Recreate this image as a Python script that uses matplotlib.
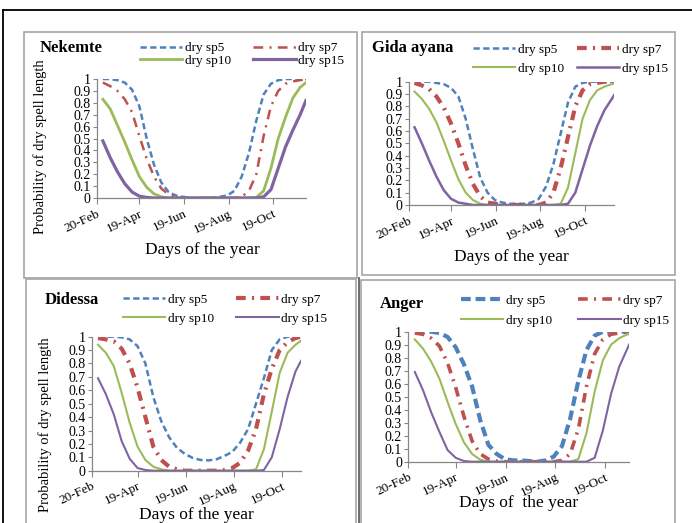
import matplotlib
matplotlib.use("Agg")
import matplotlib.pyplot as plt
from matplotlib.lines import Line2D
from matplotlib.patches import Rectangle

plt.rcParams['font.family'] = ['Liberation Serif', 'DejaVu Serif']
plt.rcParams['lines.scale_dashes'] = False

W, H = 692, 523

# x values are day of the year
tick_days = [51, 109, 170, 231, 292]
tick_labels = ["20-Feb", "19-Apr", "19-Jun", "19-Aug", "19-Oct"]
legend_labels = ["dry sp5", "dry sp7", "dry sp10", "dry sp15"]

# Nekemte
nek_days = [59, 69, 79, 89, 99, 109, 119, 129, 139, 149, 159, 169, 179, 189, 199,
            209, 219, 229, 239, 249, 259, 269, 279, 289, 299, 309, 319, 329, 337]
nek_sp5 = [1.0, 1.0, 0.99, 0.97, 0.91, 0.77, 0.50, 0.28, 0.13, 0.05, 0.02, 0.01, 0.0, 0.0, 0.0,
           0.0, 0.01, 0.02, 0.06, 0.18, 0.38, 0.65, 0.87, 0.96, 0.99, 1.0, 1.0, 1.0, 1.0]
nek_sp7 = [0.97, 0.94, 0.90, 0.83, 0.72, 0.52, 0.33, 0.18, 0.08, 0.03, 0.01, 0.0, 0.0, 0.0, 0.0,
           0.0, 0.0, 0.0, 0.0, 0.01, 0.06, 0.20, 0.52, 0.77, 0.90, 0.96, 0.98, 0.99, 1.0]
nek_sp10 = [0.83, 0.75, 0.61, 0.47, 0.32, 0.18, 0.09, 0.035, 0.01, 0.0, 0.0, 0.0, 0.0, 0.0, 0.0,
            0.0, 0.0, 0.0, 0.0, 0.0, 0.0, 0.005, 0.06, 0.25, 0.50, 0.68, 0.84, 0.93, 0.97]
nek_sp15 = [0.48, 0.34, 0.22, 0.12, 0.05, 0.015, 0.005, 0.0, 0.0, 0.0, 0.0, 0.0, 0.0, 0.0, 0.0,
            0.0, 0.0, 0.0, 0.0, 0.0, 0.0, 0.0, 0.01, 0.07, 0.25, 0.43, 0.57, 0.70, 0.82]

# Gida ayana
gida_days = [59, 69, 79, 89, 99, 109, 119, 129, 139, 149, 159, 169, 179, 189, 199,
             209, 219, 229, 239, 249, 259, 269, 279, 289, 299, 309, 319, 329, 332]
gida_sp5 = [1.0, 1.0, 1.0, 0.99, 0.98, 0.95, 0.88, 0.70, 0.45, 0.22, 0.10, 0.04, 0.02, 0.01, 0.01,
            0.01, 0.02, 0.05, 0.15, 0.33, 0.58, 0.83, 0.96, 0.99, 1.0, 1.0, 1.0, 1.0, 1.0]
gida_sp7 = [0.99, 0.97, 0.94, 0.88, 0.79, 0.66, 0.50, 0.32, 0.17, 0.07, 0.02, 0.01, 0.0, 0.0, 0.0,
            0.0, 0.0, 0.0, 0.02, 0.10, 0.30, 0.55, 0.80, 0.93, 0.98, 0.99, 1.0, 1.0, 1.0]
gida_sp10 = [0.92, 0.86, 0.78, 0.67, 0.52, 0.36, 0.21, 0.10, 0.04, 0.01, 0.0, 0.0, 0.0, 0.0, 0.0,
             0.0, 0.0, 0.0, 0.0, 0.0, 0.01, 0.14, 0.42, 0.70, 0.85, 0.93, 0.96, 0.98, 0.985]
gida_sp15 = [0.63, 0.50, 0.36, 0.23, 0.12, 0.05, 0.02, 0.01, 0.0, 0.0, 0.0, 0.0, 0.0, 0.0, 0.0,
             0.0, 0.0, 0.0, 0.0, 0.0, 0.0, 0.01, 0.10, 0.29, 0.48, 0.64, 0.77, 0.86, 0.89]

# Didessa
did_days = [59, 69, 79, 89, 99, 109, 119, 129, 139, 149, 159, 169, 179, 189, 199,
            209, 219, 229, 239, 249, 259, 269, 279, 289, 299, 309, 316]
did_sp5 = [1.0, 1.0, 1.0, 0.995, 0.98, 0.93, 0.80, 0.55, 0.37, 0.25, 0.17, 0.125, 0.095, 0.08, 0.077,
           0.085, 0.11, 0.14, 0.21, 0.31, 0.50, 0.69, 0.90, 0.98, 1.0, 1.0, 1.0]
did_sp7 = [0.99, 0.98, 0.965, 0.91, 0.80, 0.62, 0.40, 0.18, 0.08, 0.03, 0.01, 0.0, 0.0, 0.0, 0.0,
           0.0, 0.005, 0.02, 0.06, 0.15, 0.31, 0.57, 0.76, 0.90, 0.96, 0.99, 1.0]
did_sp10 = [0.94, 0.88, 0.78, 0.58, 0.36, 0.18, 0.08, 0.03, 0.01, 0.0, 0.0, 0.0, 0.0, 0.0, 0.0,
            0.0, 0.0, 0.0, 0.0, 0.0, 0.01, 0.16, 0.44, 0.73, 0.88, 0.94, 0.97]
did_sp15 = [0.69, 0.57, 0.42, 0.22, 0.09, 0.02, 0.005, 0.0, 0.0, 0.0, 0.0, 0.0, 0.0, 0.0, 0.0,
            0.0, 0.0, 0.0, 0.0, 0.0, 0.0, 0.005, 0.10, 0.31, 0.55, 0.74, 0.82]

# Anger
ang_days = [59, 69, 79, 89, 99, 109, 119, 129, 139, 149, 159, 169, 179, 189, 199,
            209, 219, 229, 239, 249, 259, 269, 279, 289, 299, 309, 319, 321]
ang_sp5 = [1.0, 1.0, 1.0, 0.99, 0.96, 0.88, 0.75, 0.58, 0.32, 0.13, 0.06, 0.02, 0.01, 0.01, 0.005,
           0.0, 0.01, 0.04, 0.12, 0.33, 0.62, 0.86, 0.97, 1.0, 1.0, 1.0, 1.0, 1.0]
ang_sp7 = [0.99, 0.98, 0.95, 0.89, 0.76, 0.57, 0.35, 0.16, 0.06, 0.02, 0.005, 0.0, 0.0, 0.0, 0.0,
           0.0, 0.0, 0.0, 0.01, 0.06, 0.25, 0.58, 0.83, 0.94, 0.98, 0.99, 1.0, 1.0]
ang_sp10 = [0.94, 0.87, 0.77, 0.64, 0.46, 0.29, 0.15, 0.06, 0.015, 0.0, 0.0, 0.0, 0.0, 0.0, 0.0,
            0.0, 0.0, 0.0, 0.0, 0.0, 0.02, 0.22, 0.54, 0.78, 0.90, 0.95, 0.98, 0.98]
ang_sp15 = [0.69, 0.55, 0.38, 0.23, 0.09, 0.03, 0.005, 0.0, 0.0, 0.0, 0.0, 0.0, 0.0, 0.0, 0.0,
            0.0, 0.0, 0.0, 0.0, 0.0, 0.0, 0.0, 0.03, 0.24, 0.52, 0.73, 0.87, 0.90]

blue, red, green, purple = "#4f81bd", "#c0504d", "#9bbb59", "#8064a2"
axis_grey = "#868686"
box_grey = "#a6a6a6"

panels = [
    dict(name="Nekemte", days=nek_days, ys=[nek_sp5, nek_sp7, nek_sp10, nek_sp15],
         ax_px=(97, 79, 306, 198), lw=[1.8, 1.8, 2.0, 2.3], blue_dash=(4.5, 2.5),
         leg_x=140, leg_rows=(47, 62), colsp=1.7, title_xy=(40, 48),
         xlabel="Days of the year", xlabel_xy=(202, 250), ylabel_xy=(40, 147)),
    dict(name="Gida ayana", days=gida_days, ys=[gida_sp5, gida_sp7, gida_sp10, gida_sp15],
         ax_px=(408.7, 81.7, 614, 205), lw=[1.8, 3.0, 1.5, 1.8], blue_dash=(4.5, 2.5),
         leg_x=473, leg_rows=(48, 70), colsp=1.0, title_xy=(372, 48),
         xlabel="Days of the year", xlabel_xy=(511, 257), ylabel_xy=None),
    dict(name="Didessa", days=did_days, ys=[did_sp5, did_sp7, did_sp10, did_sp15],
         ax_px=(91.7, 336.7, 301, 470.7), lw=[1.8, 3.0, 1.5, 1.5], blue_dash=(4.5, 2.5),
         leg_x=123, leg_rows=(298, 320), colsp=1.7, title_xy=(45, 300),
         xlabel="Days of the year", xlabel_xy=(196, 515), ylabel_xy=(45, 425)),
    dict(name="Anger", days=ang_days, ys=[ang_sp5, ang_sp7, ang_sp10, ang_sp15],
         ax_px=(408.3, 331.7, 629, 461.7), lw=[3.0, 2.6, 1.5, 1.5], blue_dash=(7, 3.5),
         leg_x=461, leg_rows=(299, 322), colsp=2.0, title_xy=(380, 304),
         xlabel="Days of  the year", xlabel_xy=(519, 503), ylabel_xy=None),
]

fig = plt.figure(figsize=(W / 100, H / 100), dpi=100)


def fx(x):
    return x / W


def fy(y):
    return 1 - y / H


# outer frame and panel boxes
fig.add_artist(Line2D([fx(3), fx(692)], [fy(10), fy(10)], color="black", lw=1.3))
fig.add_artist(Line2D([fx(3), fx(3)], [fy(10), fy(523)], color="black", lw=1.3))
fig.add_artist(Line2D([fx(359), fx(359)], [fy(278), fy(523)], color="#606060", lw=1.3))
for l, t, r, b in [(24, 32, 357, 277.5), (362, 32, 675, 274.5),
                   (26, 278.5, 355.5, 530), (361, 280, 675, 530)]:
    fig.add_artist(Rectangle((fx(l), fy(b)), fx(r) - fx(l), fy(t) - fy(b),
                             fill=False, edgecolor=box_grey, lw=1.2))

for p in panels:
    l, t, r, b = p["ax_px"]
    ax = fig.add_axes([fx(l), fy(b), fx(r) - fx(l), fy(t) - fy(b)])
    s5, s7, s10, s15 = p["ys"]
    h5, = ax.plot(p["days"], s5, color=blue, lw=p["lw"][0], dashes=p["blue_dash"])
    h7, = ax.plot(p["days"], s7, color=red, lw=p["lw"][1], dashes=(7, 4.5, 1.5, 4.5))
    h10, = ax.plot(p["days"], s10, color=green, lw=p["lw"][2])
    h15, = ax.plot(p["days"], s15, color=purple, lw=p["lw"][3])

    ax.set_xlim(51, p["days"][-1])
    ax.set_ylim(0, 1)
    ax.set_yticks([i / 10 for i in range(11)])
    ax.set_yticklabels(["0"] + ["0.%d" % i for i in range(1, 10)] + ["1"])
    ax.set_xticks(tick_days)
    ax.set_xticklabels(tick_labels, rotation=25, ha="right", va="top",
                       rotation_mode="anchor")
    ax.tick_params(axis="y", labelsize=10, length=3, width=0.8, color=axis_grey, pad=1.5)
    ax.tick_params(axis="x", labelsize=9.5, length=4, width=0.8, color=axis_grey, pad=3)
    for side in ["top", "right"]:
        ax.spines[side].set_visible(False)
    for side in ["left", "bottom"]:
        ax.spines[side].set_color(axis_grey)
        ax.spines[side].set_linewidth(0.9)
    ax.patch.set_alpha(0)

    r1, r2 = p["leg_rows"]
    ax.legend([h5, h10, h7, h15],
              [legend_labels[0], legend_labels[2], legend_labels[1], legend_labels[3]],
              ncol=2, loc="center left", frameon=False,
              bbox_to_anchor=(fx(p["leg_x"]), fy((r1 + r2) / 2)),
              bbox_transform=fig.transFigure, borderpad=0, borderaxespad=0,
              handlelength=3.2, handletextpad=0.2, columnspacing=p["colsp"],
              labelspacing=(r2 - r1 - 15) / 13.2, prop={"size": 9.5})

    fig.text(fx(p["title_xy"][0]), fy(p["title_xy"][1]), p["name"],
             fontsize=12, fontweight="bold", ha="left", va="center")
    fig.text(fx(p["xlabel_xy"][0]), fy(p["xlabel_xy"][1]), p["xlabel"],
             fontsize=12.5, ha="center", va="center")
    if p["ylabel_xy"] is not None:
        fig.text(fx(p["ylabel_xy"][0]), fy(p["ylabel_xy"][1]),
                 "Probability of dry spell length", fontsize=10.5,
                 rotation=90, ha="center", va="center")

fig.savefig("out.png", dpi=100)
